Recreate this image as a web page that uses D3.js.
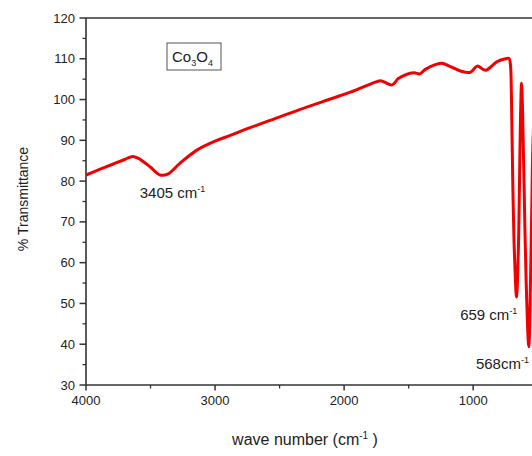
<!DOCTYPE html>
<html>
<head>
<meta charset="utf-8">
<script src="https://cdn.jsdelivr.net/npm/d3@7"></script>
<style>
body { margin: 0; background: #fff; }
svg text { font-family: "Liberation Sans", Arial, sans-serif; fill: #222; }
</style>
</head>
<body>
<svg id="chart" width="532" height="456"></svg>
<script>
// spectrum (wavenumber in cm-1, % transmittance)
var wavenumber = [4000, 3900, 3788, 3700, 3646, 3594, 3500, 3426, 3362, 3271, 3141, 3000, 2883, 2728, 2573, 2340, 2100, 1952, 1874,
  1745, 1719, 1690, 1628, 1577, 1461, 1414, 1370, 1248, 1176, 1098, 1021, 969, 905, 814, 749, 722, 712, 703, 693, 680, 664,
  650, 641, 633, 625, 617, 606, 590, 569, 556, 545, 538, 525];
var transmittance = [81.5, 82.8, 84.2, 85.3, 86.0, 85.6, 83.4, 81.5, 81.8, 84.4, 87.6, 89.8, 91.2, 93.1, 94.9, 97.6, 100.2, 101.8, 102.8,
  104.4, 104.6, 104.3, 103.6, 105.2, 106.6, 106.3, 107.4, 108.9, 108.1, 107.0, 106.7, 108.2, 107.2, 109.3, 110.0, 110.1, 108.8, 100, 79.5, 62, 51.6,
  63, 79.5, 96, 104.0, 97, 80, 56, 39.4, 55, 75, 88, 98];
var xTicks = [4000, 3000, 2000, 1000];
var yTicks = [30, 40, 50, 60, 70, 80, 90, 100, 110, 120];
var peakLabels = [
  { text: "3405 cm", x: 3405, y: 81.3, dx: -23, dy: 22 },
  { text: "659 cm", x: 659, y: 51.6, dx: -57, dy: 23 },
  { text: "568cm", x: 568, y: 39.4, dx: -53, dy: 22 }
];

var svg = d3.select("#chart");
var x = d3.scaleLinear().domain([4000, 400]).range([86, 550.6]);
var y = d3.scaleLinear().domain([30, 120]).range([385, 18]);
var axisColor = "#333";

// minor ticks
var xMinor = d3.range(4000, 400, -500).filter(function(d) { return d % 1000 !== 0; });
var yMinor = d3.range(35, 120, 10);
svg.selectAll(".xminor").data(xMinor).enter().append("line")
  .attr("x1", function(d) { return x(d); }).attr("x2", function(d) { return x(d); })
  .attr("y1", 385).attr("y2", 388.5)
  .attr("stroke", axisColor).attr("stroke-width", 1.3);
svg.selectAll(".yminor").data(yMinor).enter().append("line")
  .attr("x1", 86).attr("x2", 82.5)
  .attr("y1", function(d) { return y(d); }).attr("y2", function(d) { return y(d); })
  .attr("stroke", axisColor).attr("stroke-width", 1.3);

// major ticks and labels
svg.selectAll(".xmajor").data(xTicks).enter().append("line")
  .attr("x1", function(d) { return x(d); }).attr("x2", function(d) { return x(d); })
  .attr("y1", 385).attr("y2", 390.5)
  .attr("stroke", axisColor).attr("stroke-width", 1.5);
svg.selectAll(".xlab").data(xTicks).enter().append("text")
  .attr("x", function(d) { return x(d); }).attr("y", 405)
  .attr("text-anchor", "middle").style("font-size", "13px")
  .text(function(d) { return d; });
svg.selectAll(".ymajor").data(yTicks).enter().append("line")
  .attr("x1", 86).attr("x2", 79.5)
  .attr("y1", function(d) { return y(d); }).attr("y2", function(d) { return y(d); })
  .attr("stroke", axisColor).attr("stroke-width", 1.5);
svg.selectAll(".ylab").data(yTicks).enter().append("text")
  .attr("x", 75).attr("y", function(d) { return y(d) + 4.5; })
  .attr("text-anchor", "end").style("font-size", "13px")
  .text(function(d) { return d; });

// frame
svg.append("line").attr("x1", 86).attr("x2", 86).attr("y1", 18).attr("y2", 385)
  .attr("stroke", axisColor).attr("stroke-width", 1.6);
svg.append("line").attr("x1", 86).attr("x2", 532).attr("y1", 385).attr("y2", 385)
  .attr("stroke", axisColor).attr("stroke-width", 1.6);
svg.append("line").attr("x1", 86).attr("x2", 532).attr("y1", 18).attr("y2", 18)
  .attr("stroke", axisColor).attr("stroke-width", 1.6);

// spectrum line
var pts = wavenumber.map(function(w, i) { return [w, transmittance[i]]; });
var line = d3.line()
  .x(function(d) { return x(d[0]); })
  .y(function(d) { return y(d[1]); })
  .curve(d3.curveCatmullRom.alpha(0.5));
svg.append("path").datum(pts)
  .attr("d", line)
  .attr("fill", "none")
  .attr("stroke", "#f00000")
  .attr("stroke-width", 3)
  .attr("stroke-linejoin", "round");

// peak labels
peakLabels.forEach(function(p) {
  var t = svg.append("text")
    .attr("x", x(p.x) + p.dx).attr("y", y(p.y) + p.dy)
    .style("font-size", "15px");
  t.append("tspan").text(p.text);
  t.append("tspan").attr("dy", -6).style("font-size", "9px").text("-1");
});

// legend box
svg.append("rect").attr("x", 167).attr("y", 43).attr("width", 54).attr("height", 27)
  .attr("fill", "none").attr("stroke", "#555").attr("stroke-width", 1);
var leg = svg.append("text").attr("x", 172).attr("y", 62).style("font-size", "15px");
leg.append("tspan").text("Co");
leg.append("tspan").attr("dy", 4).style("font-size", "9px").text("3");
leg.append("tspan").attr("dy", -4).text("O");
leg.append("tspan").attr("dy", 4).style("font-size", "9px").text("4");

// axis titles
var xt = svg.append("text").attr("x", 305).attr("y", 445)
  .attr("text-anchor", "middle").style("font-size", "16px");
xt.append("tspan").text("wave number (cm");
xt.append("tspan").attr("dy", -6).style("font-size", "10px").text("-1");
xt.append("tspan").attr("dy", 6).text(" )");
svg.append("text")
  .attr("transform", "translate(28,199) rotate(-90)")
  .attr("text-anchor", "middle").style("font-size", "14px")
  .text("% Transmittance");
</script>
</body>
</html>
